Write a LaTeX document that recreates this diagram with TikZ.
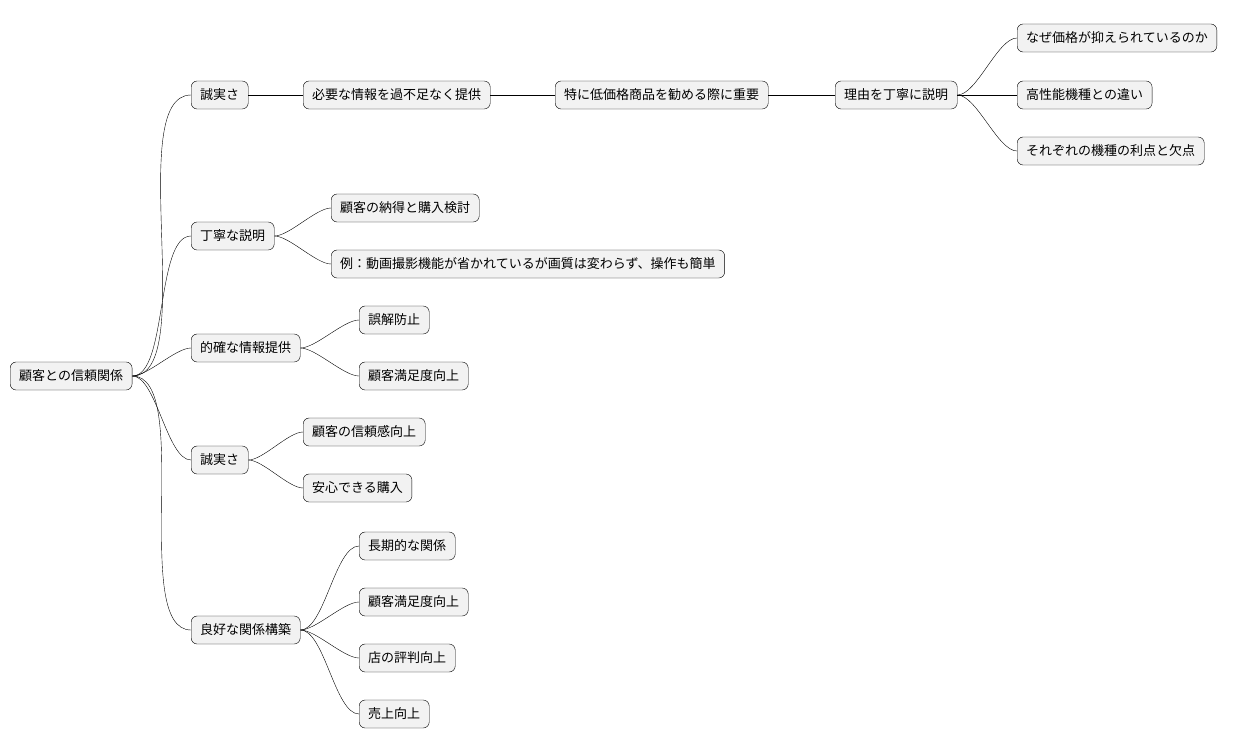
\documentclass[tikz,border=0pt]{standalone}
\usepackage{fontspec}
\setmainfont{Noto Sans CJK JP}
\begin{document}
\begin{tikzpicture}[x=1pt,y=-1pt,
  every node/.style={draw,rounded corners=6pt,fill=gray!10,anchor=west,minimum height=28pt,inner xsep=9pt,font=\fontsize{13}{15}\selectfont},
  link/.style={out=0,in=180,looseness=0.6}]
\useasboundingbox (0,0) rectangle (1244,752);

\node(r) at (10,376) {顧客との信頼関係};

\node(a) at (191,95) {誠実さ};
\node(b) at (191,236) {丁寧な説明};
\node(c) at (191,348) {的確な情報提供};
\node(d) at (191,460) {誠実さ};
\node(e) at (191,630) {良好な関係構築};

\node(a1) at (303,95) {必要な情報を過不足なく提供};
\node(a2) at (555,95) {特に低価格商品を勧める際に重要};
\node(a3) at (835,95) {理由を丁寧に説明};
\node(a31) at (1017,38) {なぜ価格が抑えられているのか};
\node(a32) at (1017,95) {高性能機種との違い};
\node(a33) at (1017,151) {それぞれの機種の利点と欠点};

\node(b1) at (331,208) {顧客の納得と購入検討};
\node(b2) at (331,264) {例：動画撮影機能が省かれているが画質は変わらず、操作も簡単};

\node(c1) at (359,320) {誤解防止};
\node(c2) at (359,376) {顧客満足度向上};

\node(d1) at (303,432) {顧客の信頼感向上};
\node(d2) at (303,488) {安心できる購入};

\node(e1) at (359,546) {長期的な関係};
\node(e2) at (359,602) {顧客満足度向上};
\node(e3) at (359,658) {店の評判向上};
\node(e4) at (359,714) {売上向上};

\draw(r.east) to[link] (a.west);
\draw(r.east) to[link] (b.west);
\draw(r.east) to[link] (c.west);
\draw(r.east) to[link] (d.west);
\draw(r.east) to[link] (e.west);

\draw(a.east)--(a1.west);
\draw(a1.east)--(a2.west);
\draw(a2.east)--(a3.west);
\draw(a3.east) to[link] (a31.west);
\draw(a3.east)--(a32.west);
\draw(a3.east) to[link] (a33.west);

\draw(b.east) to[link] (b1.west);
\draw(b.east) to[link] (b2.west);
\draw(c.east) to[link] (c1.west);
\draw(c.east) to[link] (c2.west);
\draw(d.east) to[link] (d1.west);
\draw(d.east) to[link] (d2.west);
\draw(e.east) to[link] (e1.west);
\draw(e.east) to[link] (e2.west);
\draw(e.east) to[link] (e3.west);
\draw(e.east) to[link] (e4.west);
\end{tikzpicture}
\end{document}
